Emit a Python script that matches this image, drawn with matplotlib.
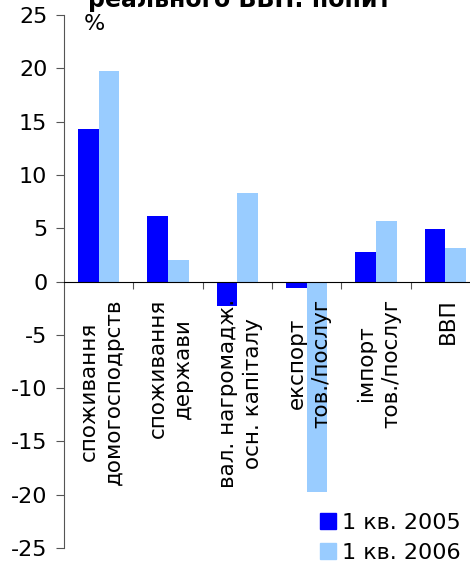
import matplotlib
matplotlib.use("Agg")
import matplotlib.pyplot as plt
import numpy as np
from matplotlib.patches import Patch

categories = ["споживання\nдомогосподрств", "споживання\nдержави", "вал. нагромадж.\nосн. капіталу",
              "експорт\nтов./послуг", "імпорт\nтов./послуг", "ВВП"]
q1_2005 = [14.3, 6.1, -2.3, -0.6, 2.75, 4.9]
q1_2006 = [19.7, 2.0, 8.3, -19.7, 5.65, 3.1]
series_names = ["1 кв. 2005", "1 кв. 2006"]
yticks = [25, 20, 15, 10, 5, 0, -5, -10, -15, -20, -25]

plt.rcParams['font.family'] = ['DejaVu Sans']
plt.rcParams['axes.unicode_minus'] = False
fig = plt.figure(figsize=(4.7, 5.65), dpi=100)
ax = fig.add_axes([64/470, 1-548/565, 416/470, 533/565])

x = np.arange(len(categories))
w = 0.3
c1, c2 = "#0000FF", "#99CCFF"
ax.bar(x - w/2, q1_2005, width=w, color=c1, zorder=2)
ax.bar(x + w/2, q1_2006, width=w, color=c2, zorder=2)

ax.set_xlim(-0.5, 5.5)
ax.set_ylim(-25, 25)
ax.set_yticks(yticks)
ax.tick_params(axis='y', labelsize=16, direction='out', length=6, pad=6, color='#555555')
ax.spines['top'].set_visible(False)
ax.spines['right'].set_visible(False)
ax.spines['left'].set_color('#555555')
ax.spines['bottom'].set_position(('data', 0))
ax.spines['bottom'].set_zorder(3)
ax.set_xticks(np.arange(0.5, 5.5, 1.0))
ax.set_xticklabels([])
ax.tick_params(axis='x', direction='out', length=5, color='#555555')

for i, lab in enumerate(categories):
    ax.text(i + 0.04, -1.6, lab, rotation=90, ha='center', va='top', multialignment='center',
            fontsize=15.5, linespacing=1.3, zorder=4)

fig.text(94/470, 1-24/565, "%", fontsize=16, ha='center', va='center')
fig.text(240/470, 1-7/565, "реального ВВП: попит", fontsize=17, fontweight='bold',
         ha='center', va='baseline')

handles = [Patch(color=c1), Patch(color=c2)]
ax.legend(handles, series_names, loc='lower right', bbox_to_anchor=(406/416, -0.044),
          frameon=False, fontsize=16, handlelength=0.7, handleheight=0.7, handletextpad=0.3,
          labelspacing=0.45, borderaxespad=0)

fig.savefig("out.png", dpi=100)
